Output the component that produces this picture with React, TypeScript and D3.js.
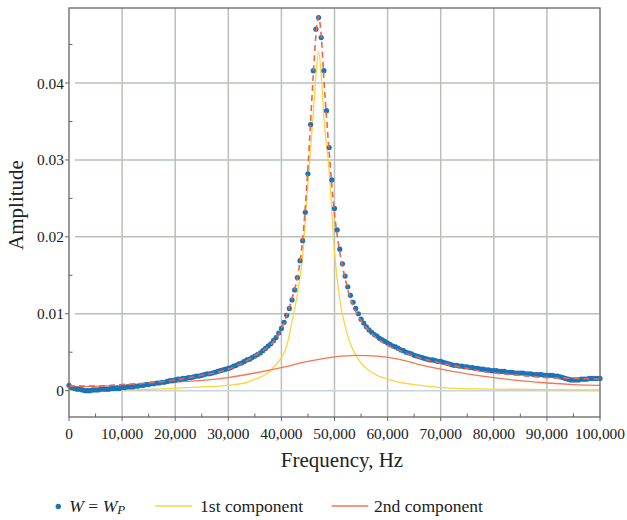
import React from 'react';
import * as d3 from 'd3';

// measured spectrum W = W_P, sampled every 500 Hz from 0 to 100,000 Hz
const sampleStep = 500;
const measured = [
  0.0007,
  0.0004, 0.0003, 0.0002, 0.0002, 0.0001, 0.0000, 0.0000, 0.0000, 0.0001, 0.0001,
  0.0001, 0.0002, 0.0002, 0.0002, 0.0002, 0.0003, 0.0003, 0.0003, 0.0003, 0.0004,
  0.0004, 0.0005, 0.0005, 0.0005, 0.0006, 0.0006, 0.0007, 0.0007, 0.0008, 0.0008,
  0.0009, 0.0009, 0.0010, 0.0010, 0.0011, 0.0011, 0.0012, 0.0013, 0.0013, 0.0014,
  0.0015, 0.0015, 0.0016, 0.0016, 0.0017, 0.0017, 0.0018, 0.0019, 0.0019, 0.0020,
  0.0021, 0.0022, 0.0022, 0.0023, 0.0024, 0.0025, 0.0026, 0.0027, 0.0028, 0.0029,
  0.0030, 0.0032, 0.0033, 0.0035, 0.0036, 0.0038, 0.0040, 0.0041, 0.0043, 0.0045,
  0.0047, 0.0049, 0.0052, 0.0055, 0.0058, 0.0061, 0.0065, 0.0069, 0.0075, 0.0081,
  0.0089, 0.0098, 0.0107, 0.0118, 0.0131, 0.0147, 0.0169, 0.0195, 0.0232, 0.0282,
  0.0346, 0.0416, 0.0470, 0.0485, 0.0459, 0.0416, 0.0364, 0.0316, 0.0274, 0.0237,
  0.0209, 0.0184, 0.0165, 0.0149, 0.0135, 0.0124, 0.0115, 0.0107, 0.0100, 0.0093,
  0.0088, 0.0083, 0.0079, 0.0076, 0.0073, 0.0071, 0.0068, 0.0066, 0.0064, 0.0062,
  0.0060, 0.0058, 0.0057, 0.0055, 0.0053, 0.0052, 0.0050, 0.0049, 0.0048, 0.0046,
  0.0045, 0.0044, 0.0043, 0.0042, 0.0041, 0.0040, 0.0040, 0.0039, 0.0038, 0.0038,
  0.0037, 0.0036, 0.0035, 0.0034, 0.0033, 0.0033, 0.0032, 0.0032, 0.0031, 0.0031,
  0.0030, 0.0030, 0.0029, 0.0029, 0.0028, 0.0028, 0.0027, 0.0027, 0.0026, 0.0026,
  0.0026, 0.0025, 0.0025, 0.0025, 0.0024, 0.0024, 0.0024, 0.0023, 0.0023, 0.0023,
  0.0023, 0.0022, 0.0022, 0.0022, 0.0021, 0.0021, 0.0021, 0.0021, 0.0020, 0.0020,
  0.0020, 0.0020, 0.0019, 0.0019, 0.0018, 0.0017, 0.0016, 0.0015, 0.0014, 0.0014,
  0.0014, 0.0014, 0.0015, 0.0015, 0.0015, 0.0016, 0.0016, 0.0016, 0.0016, 0.0016,
];

// fitted sum (red dashed)
const fitFreq = [0, 5000, 10000, 15000, 20000, 25000, 30000, 34000, 36000, 38000, 40000, 41000, 42000, 43000,
  44000, 45000, 46000, 46500, 47000, 47500, 48000, 49000, 50000, 51000, 52000, 53000, 54000, 55000,
  56000, 58000, 60000, 62000, 65000, 70000, 75000, 80000, 85000, 90000, 95000, 100000];
const fitAmp = [0.0006, 0.0006, 0.0008, 0.0010, 0.0014, 0.0020, 0.0028, 0.0041, 0.0050, 0.0060, 0.0080, 0.0098, 0.0120, 0.0147,
  0.0196, 0.0290, 0.0410, 0.0462, 0.0486, 0.0462, 0.0405, 0.0310, 0.0230, 0.0180, 0.0146, 0.0120, 0.0103, 0.0091,
  0.0082, 0.0068, 0.0059, 0.0053, 0.0045, 0.0036, 0.0029, 0.0023, 0.0020, 0.0017, 0.0016, 0.0015];

// 1st component (yellow)
const firstFreq = [0, 10000, 20000, 25000, 30000, 33000, 35000, 37000, 38000, 39000, 40000, 41000, 42000, 43000,
  44000, 45000, 46000, 46500, 47000, 47500, 48000, 49000, 50000, 51000, 52000, 53000, 54000, 55000,
  56000, 58000, 60000, 62000, 65000, 70000, 80000, 90000, 100000];
const firstAmp = [0.0000, 0.0001, 0.0003, 0.0005, 0.0007, 0.0010, 0.0015, 0.0021, 0.0027, 0.0034, 0.0043, 0.0058, 0.0090, 0.0125,
  0.0175, 0.0270, 0.0360, 0.0410, 0.0441, 0.0410, 0.0355, 0.0285, 0.0180, 0.0118, 0.0084, 0.0061, 0.0046, 0.0036,
  0.0029, 0.0020, 0.0015, 0.0011, 0.0008, 0.0004, 0.0002, 0.00015, 0.0001];

// 2nd component (orange)
const secondFreq = [0, 10000, 20000, 30000, 35000, 40000, 45000, 50000, 54000, 58000, 62000, 66000, 70000, 75000,
  80000, 85000, 90000, 95000, 100000];
const secondAmp = [0.0005, 0.0007, 0.0011, 0.0017, 0.0023, 0.0030, 0.0038, 0.0044, 0.0046, 0.0045, 0.0041, 0.0034, 0.0028, 0.0022,
  0.0017, 0.0013, 0.0010, 0.0008, 0.0007];

const xTicks = [0, 10000, 20000, 30000, 40000, 50000, 60000, 70000, 80000, 90000, 100000];
const yTicks = [0, 0.01, 0.02, 0.03, 0.04];
const yTickLabels = ['0', '0.01', '0.02', '0.03', '0.04'];

const W = 627;
const H = 520;
const serif = '"Liberation Serif", "DejaVu Serif", serif';

const App = () => {
  const x = d3.scaleLinear().domain([0, 100000]).range([69, 600]);
  const y = d3.scaleLinear().domain([-0.00342, 0.04975]).range([417, 8]);

  const line = d3.line<[number, number]>()
    .x(d => x(d[0]))
    .y(d => y(d[1]))
    .curve(d3.curveMonotoneX);

  const pts: [number, number][] = measured.map((a, i) => [i * sampleStep, a]);
  const fit = line(fitFreq.map((f, i) => [f, fitAmp[i]]));
  const first = line(firstFreq.map((f, i) => [f, firstAmp[i]]));
  const second = line(secondFreq.map((f, i) => [f, secondAmp[i]]));

  const minorX = d3.range(5000, 100000, 10000);
  const minorY = [0.005, 0.015, 0.025, 0.035, 0.045];

  const gridCol = '#b8c0b8';
  const axisCol = '#666';
  const txt = { fontFamily: serif, fill: '#222' };

  return (
    <svg width={W} height={H} style={{ position: 'absolute', left: 0, top: 0, background: '#fff' }}>
      {/* grid */}
      {xTicks.slice(1, -1).map(t => (
        <line key={'gx' + t} x1={x(t)} x2={x(t)} y1={8} y2={417} stroke={gridCol} strokeWidth={1.5} />
      ))}
      {yTicks.map(t => (
        <line key={'gy' + t} x1={75} x2={599} y1={y(t)} y2={y(t)}
          stroke={t === 0 ? '#c6d4de' : gridCol} strokeWidth={1.5} />
      ))}

      {/* curves */}
      <path d={first || ''} fill="none" stroke="#fdd340" strokeWidth={1.3} />
      <path d={second || ''} fill="none" stroke="#f47650" strokeWidth={1.3} />
      <g fill="#1b74bb">
        {pts.map((p, i) => (
          <circle key={i} cx={x(p[0])} cy={y(p[1])} r={2.6} />
        ))}
      </g>
      <path d={fit || ''} fill="none" stroke="#ee6446" strokeWidth={1.6} strokeDasharray="6,4" />

      {/* frame */}
      <rect x={69} y={8} width={531} height={409} fill="none" stroke={axisCol} strokeWidth={1.3} />

      {/* y ticks */}
      {yTicks.map((t, i) => (
        <g key={'yt' + t}>
          <line x1={65} x2={69} y1={y(t)} y2={y(t)} stroke={axisCol} strokeWidth={1} />
          <text x={64} y={y(t) + 5.5} textAnchor="end" fontSize={15.4} style={txt}>{yTickLabels[i]}</text>
        </g>
      ))}
      {minorY.map(t => (
        <line key={'ym' + t} x1={69} x2={72.5} y1={y(t)} y2={y(t)} stroke={axisCol} strokeWidth={1} />
      ))}

      {/* x ticks */}
      {xTicks.map(t => (
        <g key={'xt' + t}>
          <line x1={x(t)} x2={x(t)} y1={417} y2={421} stroke={axisCol} strokeWidth={1} />
          <text x={x(t)} y={438.5} textAnchor="middle" fontSize={15.4} style={txt}>{d3.format(',')(t)}</text>
        </g>
      ))}
      {minorX.map(t => (
        <line key={'xm' + t} x1={x(t)} x2={x(t)} y1={417} y2={413.5} stroke={axisCol} strokeWidth={1} />
      ))}

      {/* axis titles */}
      <text x={342} y={466.5} textAnchor="middle" fontSize={21} style={txt}>Frequency, Hz</text>
      <text transform="translate(22.5,205) rotate(-90)" textAnchor="middle" fontSize={21} style={txt}>Amplitude</text>

      {/* legend */}
      <circle cx={58.3} cy={506.5} r={2.7} fill="#1b74bb" />
      <text x={69.3} y={512} fontSize={17.6} style={txt}>
        <tspan fontStyle="italic">W</tspan>
        <tspan> = </tspan>
        <tspan fontStyle="italic">W</tspan>
        <tspan fontStyle="italic" fontSize={13} dy={2}>P</tspan>
      </text>
      <line x1={155} x2={192.3} y1={506} y2={506} stroke="#fdd340" strokeWidth={1.5} />
      <text x={200} y={512} fontSize={17.6} style={txt}>1st component</text>
      <line x1={331.7} x2={368.3} y1={506} y2={506} stroke="#f47650" strokeWidth={1.5} />
      <text x={374} y={512} fontSize={17.6} style={txt}>2nd component</text>
    </svg>
  );
};

export default App;
